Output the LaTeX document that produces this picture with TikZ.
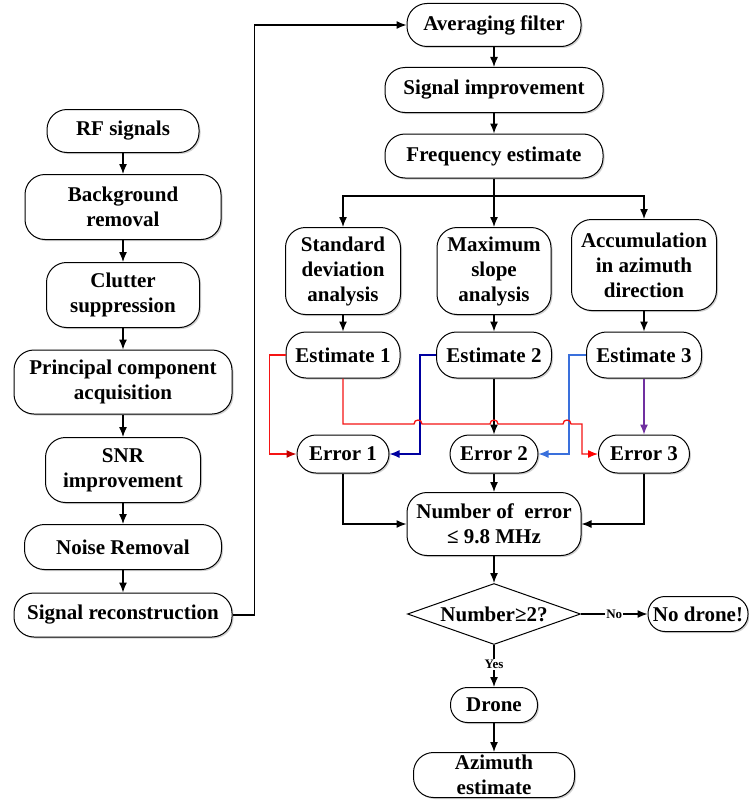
\documentclass[tikz,border=0pt]{standalone}
\usepackage{fontspec}
\setmainfont{Liberation Serif}
\usetikzlibrary{shapes.geometric,arrows.meta,shadows}
\definecolor{redl}{RGB}{245,20,20}
\definecolor{darkred}{RGB}{192,0,0}
\definecolor{navyb}{RGB}{0,0,160}
\definecolor{lblue}{RGB}{58,112,220}
\definecolor{purp}{RGB}{112,48,160}
\begin{document}
\begin{tikzpicture}[x=1pt,y=-1pt,
  box/.style={draw,fill=white,line width=1pt,rounded corners=20pt,align=center,inner sep=0pt,
    font=\fontsize{21}{25}\selectfont\bfseries,
    drop shadow={fill=black,opacity=0.18,shadow xshift=1.5pt,shadow yshift=-1.5pt}},
  ln/.style={line width=1.3pt},
  tip/.style={-{Latex[length=10pt,width=8pt]}},
  arr/.style={ln,tip},
  lbl/.style={fill=white,inner sep=1pt,font=\fontsize{13}{15}\selectfont\bfseries},
]
\useasboundingbox (0,0) rectangle (749,800);

% left column
\node[box,minimum width=152,minimum height=43] (rf) at (123,131) {RF signals};
\node[box,minimum width=196,minimum height=65] (bg) at (123,207) {Background\\removal};
\node[box,minimum width=153,minimum height=65] (cl) at (123,295) {Clutter\\suppression};
\node[box,minimum width=218,minimum height=64] (pc) at (123,382) {Principal component\\acquisition};
\node[box,minimum width=155,minimum height=65] (snr) at (123,470) {SNR\\improvement};
\node[box,minimum width=197,minimum height=45] (nr) at (123,547) {Noise Removal};
\node[box,minimum width=218,minimum height=44] (sr) at (123,615) {Signal reconstruction};

% right column
\node[box,minimum width=174,minimum height=43] (af) at (494,25) {Averaging filter};
\node[box,minimum width=218,minimum height=45] (si) at (494,90) {Signal improvement};
\node[box,minimum width=218,minimum height=44] (fe) at (494,156) {Frequency estimate};
\node[box,minimum width=115,minimum height=87] (sd) at (343,271) {Standard\\deviation\\analysis};
\node[box,minimum width=114,minimum height=87] (ms) at (494,271) {Maximum\\slope\\analysis};
\node[box,minimum width=145,minimum height=91] (ac) at (644,265) {Accumulation\\in azimuth\\direction};
\node[box,minimum width=114,minimum height=46] (e1) at (343,355) {Estimate 1};
\node[box,minimum width=115,minimum height=46] (e2) at (494,355) {Estimate 2};
\node[box,minimum width=115,minimum height=46] (e3) at (644,355) {Estimate 3};
\node[box,minimum width=92,minimum height=38,rounded corners=19pt] (r1) at (343,454) {Error 1};
\node[box,minimum width=88,minimum height=38,rounded corners=19pt] (r2) at (494,454) {Error 2};
\node[box,minimum width=91,minimum height=38,rounded corners=19pt] (r3) at (644,454) {Error 3};
\node[box,minimum width=174,minimum height=63] (num) at (494,524) {Number of\ \ error\\≤ 9.8 MHz};
\node[diamond,draw,line width=1pt,fill=white,minimum width=173,minimum height=61,inner sep=0pt] (dec) at (494,614) {};
\node[font=\fontsize{21}{25}\selectfont\bfseries] (dect) at (dec) {Number≥2?};
\node[box,minimum width=100,minimum height=35,rounded corners=17pt] (nd) at (698,614) {No drone!};
\node[box,minimum width=87,minimum height=35,rounded corners=17pt] (dr) at (494,705) {Drone};
\node[box,minimum width=161,minimum height=45] (az) at (494,775) {Azimuth\\estimate};

% left column connectors
\draw[arr] (rf) -- (bg);
\draw[arr] (bg) -- (cl);
\draw[arr] (cl) -- (pc);
\draw[arr] (pc) -- (snr);
\draw[arr] (snr) -- (nr);
\draw[arr] (nr) -- (sr);
\draw[arr] (sr.east) -- ++(22,0) |- (af.west);

% right column connectors
\draw[arr] (af) -- (si);
\draw[arr] (si) -- (fe);
\coordinate (br) at (494,196);
\draw[ln] (fe) -- (br);
\draw[arr] (br) -| (sd.north);
\draw[arr] (br) -- (ms);
\draw[arr] (br) -| (ac.north);
\draw[arr] (sd) -- (e1);
\draw[arr] (ms) -- (e2);
\draw[arr] (ac) -- (e3);

% estimates to errors
\draw[ln,redl,-{Latex[length=10pt,width=8pt,color=darkred]}] (e1.west) -- ++(-16,0) |- (r1.west);
\draw[ln,navyb,tip] (e2.west) -- ++(-16,0) |- (r1.east);
\draw[ln,lblue,tip] (e3.west) -- ++(-17,0) |- (r2.east);
\draw[arr] (e2) -- (r2);
\draw[ln,purp,tip] (e3) -- (r3);
\draw[ln,redl,-{Latex[length=10pt,width=8pt,color=red]}] (e1.south) -- (343,424) -- (414,424)
  .. controls (414,418.7) and (422,418.7) .. (422,424) -- (490,424)
  .. controls (490,418.7) and (498,418.7) .. (498,424) -- (563,424)
  .. controls (563,418.7) and (571,418.7) .. (571,424) -- (582,424) |- (r3.west);

% errors to count
\draw[arr] (r1.south) |- (num.west);
\draw[arr] (r2) -- (num);
\draw[arr] (r3.south) |- (num.east);
\draw[arr] (num) -- (dec);
\draw[arr] (dec.east) -- node[lbl] {No} (nd.west);
\draw[arr] (dec.south) -- node[lbl,pos=0.47] {Yes} (dr.north);
\draw[arr] (dr) -- (az);
\end{tikzpicture}
\end{document}
